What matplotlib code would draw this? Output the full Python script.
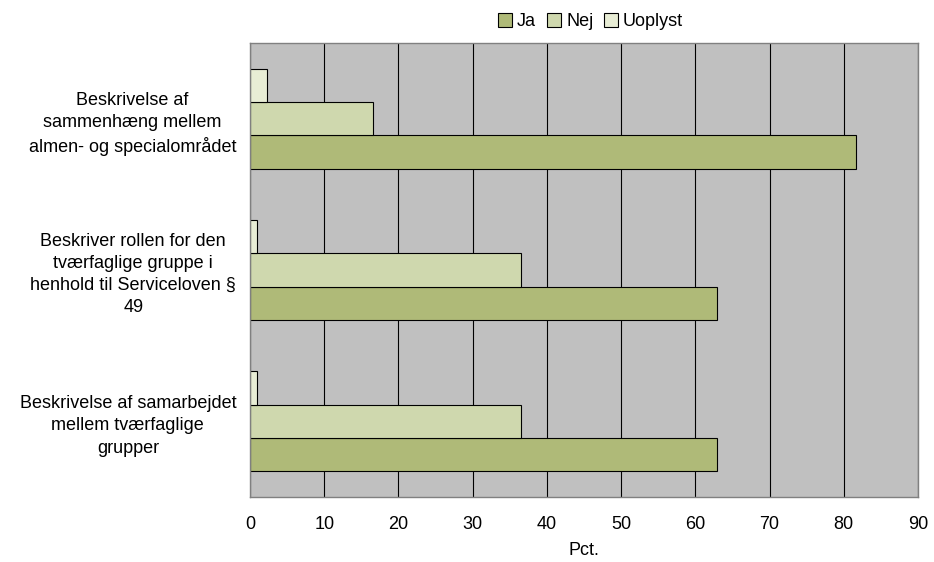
import numpy as np
import matplotlib.pyplot as plt

plt.rcParams['font.family'] = ['Liberation Sans', 'DejaVu Sans']

categories = ["Beskrivelse af\nsammenhæng mellem\nalmen- og specialområdet",
              "Beskriver rollen for den\ntværfaglige gruppe i\nhenhold til Serviceloven §\n49",
              "Beskrivelse af samarbejdet\nmellem tværfaglige\ngrupper"]
ja = [81.7, 62.9, 62.9]
nej = [16.6, 36.5, 36.5]
uoplyst = [2.3, 1.0, 1.0]
xticks = [0, 10, 20, 30, 40, 50, 60, 70, 80, 90]

fig = plt.figure(figsize=(9.34, 5.62), dpi=100)
ax = fig.add_axes([0.2677, 0.1157, 0.7152, 0.8078])
ax.set_facecolor("#C0C0C0")

# first category goes on top
y = np.arange(len(categories))[::-1]
h = 0.22
ax.barh(y - h, ja, height=h, color="#AFBA78", edgecolor="black", linewidth=0.8, label="Ja")
ax.barh(y, nej, height=h, color="#CFD8AE", edgecolor="black", linewidth=0.8, label="Nej")
ax.barh(y + h, uoplyst, height=h, color="#E8EDD5", edgecolor="black", linewidth=0.8, label="Uoplyst")

ax.set_xlim(0, 90)
ax.set_ylim(-0.5, 2.5)
ax.set_xticks(xticks)
ax.set_yticks(y)
ax.set_yticklabels(categories, ha="right", multialignment="center", linespacing=1.4)
ax.tick_params(axis="both", length=0, labelsize=13)
ax.tick_params(axis="y", pad=10)
ax.tick_params(axis="x", pad=14)
ax.xaxis.grid(True, color="black", linewidth=0.8)
ax.set_axisbelow(True)
for s in ax.spines.values():
    s.set_color("#808080")
    s.set_linewidth(1.0)

ax.set_xlabel("Pct.", fontsize=13, labelpad=6)

ax.legend(loc="lower center", bbox_to_anchor=(0.51, 1.0), ncol=3, frameon=False,
          fontsize=13, handlelength=0.75, handleheight=0.75, handletextpad=0.3,
          columnspacing=0.6, borderaxespad=0.3)

fig.savefig("out.png", dpi=100)
